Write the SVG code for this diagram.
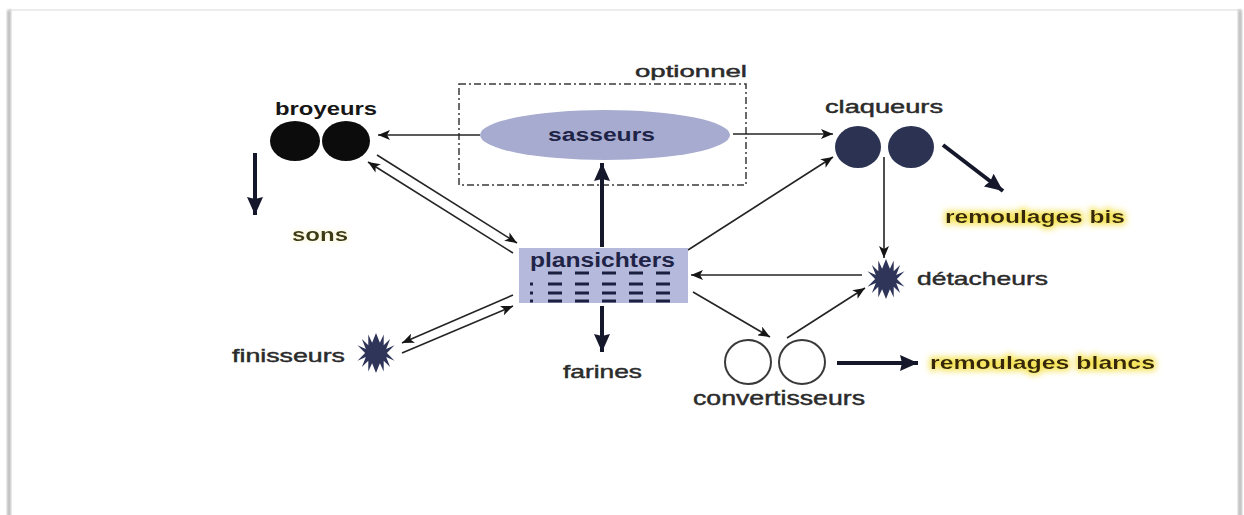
<svg xmlns="http://www.w3.org/2000/svg" width="1244" height="515" viewBox="0 0 1244 515">
  <style>
    .lbl { font-family: "Liberation Sans", Arial, sans-serif; fill: #2b2b2b; stroke: #2b2b2b; stroke-width: 0.45; }
    .bold { font-weight: bold; stroke: none; }
    .navy { fill: #1f2447; }
    .blk { fill: #161616; }
    .olive { fill: #3d3a14; }
    .brown { fill: #35280c; }
    .thin { stroke: #242424; stroke-width: 1.6; fill: none; }
    .thick { stroke: #15172a; stroke-width: 4; fill: none; }
    .star { fill: #2f3559; }
    .dash { stroke: #1c2040; stroke-width: 3; stroke-dasharray: 14 13; }
  </style>
  <defs>
    <marker id="ah" viewBox="0 0 12 10" refX="12" refY="5" markerWidth="12" markerHeight="10" markerUnits="userSpaceOnUse" orient="auto">
      <path d="M0,0 L12,5 L0,10 L3,5 Z" fill="#151515"/>
    </marker>
    <marker id="ahBig" viewBox="0 0 18 16" refX="18" refY="8" markerWidth="18" markerHeight="16" markerUnits="userSpaceOnUse" orient="auto">
      <path d="M0,0 L18,8 L0,16 L2,8 Z" fill="#15172a"/>
    </marker>
    <filter id="soft" x="-50%" y="-2%" width="200%" height="104%">
      <feGaussianBlur stdDeviation="1.4"/>
    </filter>
    <filter id="glow" x="-10%" y="-60%" width="120%" height="220%">
      <feMorphology in="SourceAlpha" operator="dilate" radius="2" result="d"/>
      <feGaussianBlur in="d" stdDeviation="3" result="b"/>
      <feFlood flood-color="#f3de3a" flood-opacity="0.85"/>
      <feComposite in2="b" operator="in" result="g"/>
      <feMerge><feMergeNode in="g"/><feMergeNode in="SourceGraphic"/></feMerge>
    </filter>
    <filter id="faintGlow" x="-20%" y="-60%" width="140%" height="220%">
      <feMorphology in="SourceAlpha" operator="dilate" radius="1" result="d"/>
      <feGaussianBlur in="d" stdDeviation="2" result="b"/>
      <feFlood flood-color="#f7f0b8" flood-opacity="0.45"/>
      <feComposite in2="b" operator="in" result="g"/>
      <feMerge><feMergeNode in="g"/><feMergeNode in="SourceGraphic"/></feMerge>
    </filter>
    <!-- 16-spike burst used for the détacheurs and finisseurs -->
    <path id="burst" d="M0,-20 L3.9,-10.2 L7.7,-18.5 L7.7,-7.7 L14.1,-14.1 L10.2,-3.9 L18.5,-7.7 L10.9,0 L18.5,7.7 L10.2,3.9 L14.1,14.1 L7.7,7.7 L7.7,18.5 L3.9,10.2 L0,20 L-3.9,10.2 L-7.7,18.5 L-7.7,7.7 L-14.1,14.1 L-10.2,3.9 L-18.5,7.7 L-10.9,0 L-18.5,-7.7 L-10.2,-3.9 L-14.1,-14.1 L-7.7,-7.7 L-7.7,-18.5 L-3.9,-10.2 Z"/>
  </defs>

  <!-- page sheet: faint top edge, shaded side edges -->
  <rect x="0" y="0" width="1244" height="515" fill="#ffffff"/>
  <line x1="9" y1="10" x2="1241" y2="10" stroke="#e6e6e6" stroke-width="1.5"/>
  <rect x="7.5" y="10" width="3" height="520" fill="#a6a6a6" filter="url(#soft)"/>
  <rect x="1238.5" y="10" width="3" height="520" fill="#a6a6a6" filter="url(#soft)"/>

  <!-- optional screening zone -->
  <g id="optionnel">
    <rect x="459" y="84" width="287" height="101" fill="none" stroke="#3a3a3a" stroke-width="1.5" stroke-dasharray="7 3 2 3"/>
    <text class="lbl" x="635" y="77" font-size="17" textLength="112" lengthAdjust="spacingAndGlyphs">optionnel</text>
  </g>

  <g id="connectors">
    <!-- sasseurs outputs -->
    <line class="thin" x1="480" y1="135" x2="378" y2="135" marker-end="url(#ah)" stroke-width="2"/>
    <line class="thin" x1="733" y1="134" x2="833" y2="134" marker-end="url(#ah)" stroke-width="2"/>
    <!-- broyeurs <-> plansichters -->
    <line class="thin" x1="377" y1="155" x2="517" y2="243" marker-end="url(#ah)"/>
    <line class="thin" x1="513" y1="253" x2="368" y2="162" marker-end="url(#ah)"/>
    <!-- plansichters -> claqueurs -->
    <line class="thin" x1="688" y1="250" x2="833" y2="157" marker-end="url(#ah)"/>
    <!-- claqueurs -> détacheurs -->
    <line class="thin" x1="884" y1="157" x2="884" y2="258" marker-end="url(#ah)"/>
    <!-- détacheurs -> plansichters -->
    <line class="thin" x1="862" y1="275" x2="691" y2="275" marker-end="url(#ah)"/>
    <!-- plansichters -> convertisseurs -> détacheurs -->
    <line class="thin" x1="693" y1="292" x2="770" y2="337" marker-end="url(#ah)"/>
    <line class="thin" x1="787" y1="338" x2="865" y2="288" marker-end="url(#ah)"/>
    <!-- finisseurs <-> plansichters -->
    <line class="thin" x1="513" y1="295" x2="402" y2="343" marker-end="url(#ah)"/>
    <line class="thin" x1="402" y1="353" x2="513" y2="306" marker-end="url(#ah)"/>
    <!-- heavy product flows -->
    <line class="thick" x1="602" y1="247" x2="602" y2="163" marker-end="url(#ahBig)"/>
    <line class="thick" x1="602" y1="306" x2="602" y2="352" marker-end="url(#ahBig)"/>
    <line class="thick" x1="255" y1="153" x2="255" y2="215" stroke-width="3.5" marker-end="url(#ahBig)"/>
    <line class="thick" x1="943" y1="145" x2="1003" y2="191" marker-end="url(#ahBig)"/>
    <line class="thick" x1="837" y1="363" x2="918" y2="363" marker-end="url(#ahBig)"/>
  </g>

  <g id="sasseurs">
    <ellipse cx="605" cy="135" rx="125" ry="25" fill="#a6abcf"/>
    <text class="lbl bold navy" x="548" y="141" font-size="18" textLength="107" lengthAdjust="spacingAndGlyphs">sasseurs</text>
  </g>

  <g id="broyeurs">
    <ellipse cx="295" cy="141" rx="25" ry="20" fill="#0c0c0c"/>
    <ellipse cx="346" cy="141" rx="24" ry="20" fill="#0c0c0c"/>
    <text class="lbl bold blk" x="275" y="115" font-size="18" textLength="102" lengthAdjust="spacingAndGlyphs">broyeurs</text>
  </g>

  <g id="claqueurs">
    <ellipse cx="858" cy="147" rx="23" ry="21" fill="#2c3352"/>
    <ellipse cx="911" cy="147" rx="23" ry="21" fill="#2c3352"/>
    <text class="lbl" x="825" y="113" font-size="18" textLength="118" lengthAdjust="spacingAndGlyphs">claqueurs</text>
  </g>

  <g id="sons">
    <text class="lbl bold olive" x="292" y="241" font-size="18" textLength="56" lengthAdjust="spacingAndGlyphs" filter="url(#faintGlow)">sons</text>
  </g>

  <g id="remoulages-bis">
    <text class="lbl bold brown" x="945" y="223" font-size="18" textLength="180" lengthAdjust="spacingAndGlyphs" filter="url(#glow)">remoulages bis</text>
  </g>

  <g id="plansichters">
    <rect x="519" y="248" width="169" height="55" fill="#b5b9db"/>
    <text class="lbl bold navy" x="530" y="267" font-size="20" textLength="145" lengthAdjust="spacingAndGlyphs">plansichters</text>
    <line class="dash" x1="548" y1="273" x2="670" y2="273" stroke-width="2.5"/>
    <line class="dash" x1="548" y1="284" x2="670" y2="284"/>
    <line class="dash" x1="548" y1="293" x2="670" y2="293"/>
    <line class="dash" x1="548" y1="301" x2="670" y2="301"/>
    <line class="dash" x1="530" y1="284" x2="533" y2="284"/>
    <line class="dash" x1="530" y1="293" x2="533" y2="293"/>
    <line class="dash" x1="530" y1="301" x2="533" y2="301"/>
  </g>

  <g id="detacheurs">
    <use href="#burst" x="886" y="279" class="star"/>
    <text class="lbl" x="917" y="285" font-size="19" textLength="131" lengthAdjust="spacingAndGlyphs">détacheurs</text>
  </g>

  <g id="finisseurs">
    <use href="#burst" x="376" y="353" class="star"/>
    <text class="lbl" x="232" y="362" font-size="19" textLength="113" lengthAdjust="spacingAndGlyphs">finisseurs</text>
  </g>

  <g id="farines">
    <text class="lbl" x="563" y="378" font-size="19" textLength="79" lengthAdjust="spacingAndGlyphs">farines</text>
  </g>

  <g id="convertisseurs">
    <ellipse cx="748" cy="362" rx="23" ry="22" fill="#ffffff" stroke="#3a3a3a" stroke-width="2"/>
    <ellipse cx="802" cy="362" rx="23" ry="22" fill="#ffffff" stroke="#3a3a3a" stroke-width="2"/>
    <text class="lbl" x="693" y="405" font-size="20" textLength="172" lengthAdjust="spacingAndGlyphs">convertisseurs</text>
  </g>

  <g id="remoulages-blancs">
    <text class="lbl bold brown" x="930" y="369" font-size="19" textLength="225" lengthAdjust="spacingAndGlyphs" filter="url(#glow)">remoulages blancs</text>
  </g>
</svg>
